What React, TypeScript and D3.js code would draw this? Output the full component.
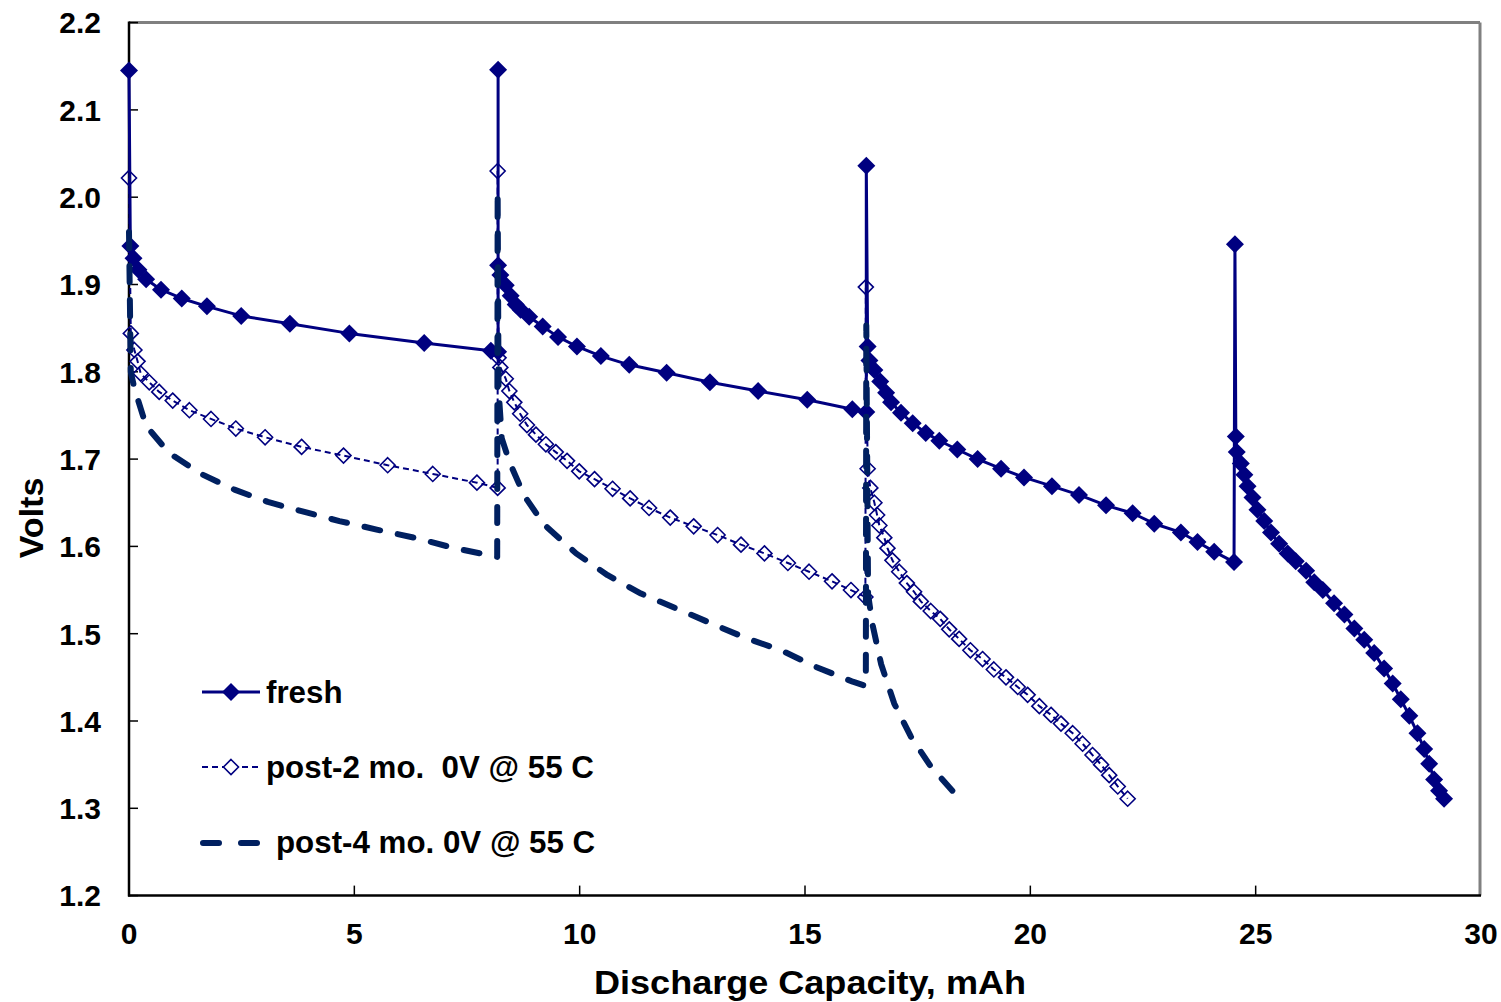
import React from "react";
import * as d3 from "d3";

const freshData: [number, number][] = [
  [0, 2.145], [0.03, 1.944], [0.1, 1.93], [0.21, 1.917], [0.38, 1.906], [0.71, 1.894], [1.17, 1.884],
  [1.73, 1.875], [2.49, 1.864], [3.57, 1.855], [4.89, 1.844], [6.55, 1.833], [8.03, 1.824], [8.19, 1.823],
  [8.19, 2.146], [8.19, 1.922], [8.24, 1.911], [8.36, 1.899], [8.47, 1.887], [8.58, 1.877], [8.69, 1.871],
  [8.88, 1.863], [9.18, 1.852], [9.52, 1.84], [9.94, 1.829], [10.47, 1.818], [11.1, 1.808], [11.93, 1.799],
  [12.89, 1.788], [13.96, 1.778], [15.05, 1.768], [16.05, 1.757], [16.36, 1.754],
  [16.36, 2.036], [16.39, 1.829], [16.43, 1.813], [16.54, 1.802], [16.67, 1.789], [16.8, 1.776], [16.91, 1.765],
  [17.13, 1.753], [17.39, 1.741], [17.68, 1.73], [17.98, 1.721], [18.38, 1.711], [18.83, 1.7], [19.35, 1.689],
  [19.86, 1.679], [20.48, 1.669], [21.08, 1.659], [21.68, 1.647], [22.27, 1.638], [22.75, 1.626], [23.34, 1.616],
  [23.71, 1.605], [24.08, 1.594], [24.52, 1.582],
  [24.54, 1.946], [24.56, 1.726], [24.58, 1.708], [24.67, 1.695], [24.75, 1.682], [24.82, 1.669], [24.93, 1.656],
  [25.04, 1.642], [25.19, 1.629], [25.34, 1.616], [25.52, 1.603], [25.71, 1.592], [25.89, 1.583], [26.12, 1.572],
  [26.3, 1.559], [26.49, 1.55], [26.74, 1.535], [26.97, 1.522], [27.19, 1.506], [27.41, 1.493], [27.63, 1.478],
  [27.85, 1.46], [28.04, 1.443], [28.22, 1.425], [28.41, 1.406], [28.59, 1.386], [28.74, 1.368], [28.85, 1.351],
  [28.96, 1.333], [29.07, 1.32], [29.18, 1.311],
];

const post2Data: [number, number][] = [
  [0, 2.022], [0.04, 1.844], [0.12, 1.825], [0.19, 1.812], [0.26, 1.798], [0.45, 1.788], [0.67, 1.777],
  [0.97, 1.767], [1.34, 1.756], [1.82, 1.746], [2.37, 1.735], [3.02, 1.725], [3.83, 1.714], [4.76, 1.704],
  [5.74, 1.693], [6.74, 1.683], [7.72, 1.673], [8.18, 1.667],
  [8.18, 2.03], [8.2, 1.816], [8.24, 1.805], [8.36, 1.792], [8.44, 1.778], [8.55, 1.765], [8.68, 1.752],
  [8.83, 1.739], [9.03, 1.728], [9.25, 1.717], [9.47, 1.708], [9.72, 1.698], [9.99, 1.686], [10.33, 1.677],
  [10.73, 1.666], [11.12, 1.655], [11.54, 1.644], [12.01, 1.633], [12.53, 1.623], [13.06, 1.613], [13.58, 1.602],
  [14.1, 1.592], [14.62, 1.581], [15.09, 1.571], [15.6, 1.56], [16.02, 1.55], [16.34, 1.542],
  [16.35, 1.897], [16.39, 1.689], [16.45, 1.667], [16.54, 1.65], [16.6, 1.636], [16.65, 1.624], [16.76, 1.61],
  [16.83, 1.598], [16.94, 1.584], [17.09, 1.571], [17.26, 1.558], [17.42, 1.548], [17.57, 1.537], [17.79, 1.526],
  [18.0, 1.517], [18.2, 1.505], [18.42, 1.494], [18.67, 1.481], [18.94, 1.471], [19.19, 1.459], [19.46, 1.45],
  [19.72, 1.439], [19.94, 1.43], [20.2, 1.417], [20.46, 1.407], [20.68, 1.397], [20.94, 1.386], [21.16, 1.374],
  [21.38, 1.361], [21.57, 1.35], [21.75, 1.338], [21.94, 1.325], [22.16, 1.311],
];

const post4Data: [number, number][] = [
  [0, 1.96], [0.04, 1.8], [0.12, 1.781], [0.38, 1.738], [0.89, 1.707], [1.6, 1.683], [2.34, 1.665],
  [3.08, 1.651], [3.85, 1.64], [4.67, 1.629], [5.52, 1.619], [6.41, 1.609], [7.22, 1.598], [8.17, 1.588],
  [8.18, 2.007], [8.2, 1.78], [8.25, 1.741], [8.27, 1.724], [8.44, 1.697], [8.77, 1.658], [9.21, 1.625],
  [9.92, 1.592], [10.62, 1.567], [11.36, 1.546], [12.14, 1.529], [12.91, 1.512], [13.69, 1.495], [14.47, 1.481],
  [15.24, 1.462], [16.06, 1.445], [16.35, 1.44],
  [16.36, 1.853], [16.4, 1.545], [16.5, 1.51], [16.69, 1.465], [16.98, 1.42], [17.35, 1.382], [17.79, 1.348],
  [18.48, 1.308],
];

const xTicks = [0, 5, 10, 15, 20, 25, 30];
const yTicks = [1.2, 1.3, 1.4, 1.5, 1.6, 1.7, 1.8, 1.9, 2.0, 2.1, 2.2];
const legendLabels = ["fresh", "post-2 mo.  0V @ 55 C", "post-4 mo. 0V @ 55 C"];

const FONT = "'Liberation Sans', Arial, sans-serif";
const NAVY = "#000080";
const DARK = "#002060";

const diamond = (x: number, y: number, r: number) =>
  `M${x},${y - r}L${x + r},${y}L${x},${y + r}L${x - r},${y}Z`;

export default function App() {
  const W = 1501;
  const H = 1002;
  const left = 129;
  const right = 1481;
  const top = 22.6;
  const bottom = 895.6;

  const x = d3.scaleLinear().domain([0, 30]).range([left, right]);
  const y = d3.scaleLinear().domain([1.2, 2.2]).range([bottom, top]);
  const line = d3
    .line<[number, number]>()
    .x((d) => x(d[0]))
    .y((d) => y(d[1]));

  return (
    <svg
      width={W}
      height={H}
      style={{ position: "absolute", left: 0, top: 0, background: "#fff" }}
      fontFamily={FONT}
    >
      <rect x={0} y={0} width={W} height={H} fill="#fff" />
      {/* plot frame */}
      <line x1={left} y1={top} x2={right - 1} y2={top} stroke="#808080" strokeWidth={3} />
      <line x1={right - 1} y1={top} x2={right - 1} y2={bottom} stroke="#808080" strokeWidth={3} />
      {/* ticks */}
      {yTicks.map((t) => (
        <line key={"yt" + t} x1={left} x2={left + 9} y1={y(t)} y2={y(t)} stroke="#000" strokeWidth={1.5} />
      ))}
      {xTicks.slice(1, -1).map((t) => (
        <line key={"xt" + t} x1={x(t)} x2={x(t)} y1={bottom} y2={bottom - 10} stroke="#000" strokeWidth={1.5} />
      ))}
      <line x1={left} y1={top - 1} x2={left} y2={bottom + 1} stroke="#000" strokeWidth={2.5} />
      <line x1={left - 1} y1={bottom} x2={right} y2={bottom} stroke="#000" strokeWidth={2.5} />

      {/* tick labels */}
      {yTicks.map((t) => (
        <text
          key={"yl" + t}
          x={101}
          y={y(t)}
          dy="0.36em"
          textAnchor="end"
          fontSize={30}
          fontWeight="bold"
          fill="#000"
        >
          {t.toFixed(1)}
        </text>
      ))}
      {xTicks.map((t) => (
        <text key={"xl" + t} x={x(t)} y={944} textAnchor="middle" fontSize={30} fontWeight="bold" fill="#000">
          {t}
        </text>
      ))}

      {/* axis titles */}
      <text
        transform="translate(43,518) rotate(-90)"
        textAnchor="middle"
        fontSize={34}
        fontWeight="bold"
        fill="#000"
      >
        Volts
      </text>
      <text
        x={810}
        y={994}
        textAnchor="middle"
        fontSize={34}
        fontWeight="bold"
        fill="#000"
        textLength={432}
        lengthAdjust="spacingAndGlyphs"
      >
        Discharge Capacity, mAh
      </text>

      {/* fresh */}
      <path d={line(freshData) || ""} fill="none" stroke={NAVY} strokeWidth={3} strokeLinejoin="round" />
      {freshData.map((d, i) => (
        <path key={"f" + i} d={diamond(x(d[0]), y(d[1]), 9)} fill={NAVY} />
      ))}

      {/* post-2 */}
      <path
        d={line(post2Data) || ""}
        fill="none"
        stroke={NAVY}
        strokeWidth={2}
        strokeDasharray="6,4"
      />
      {post2Data.map((d, i) => (
        <path key={"p2" + i} d={diamond(x(d[0]), y(d[1]), 7.5)} fill="none" stroke={NAVY} strokeWidth={1.6} />
      ))}

      {/* post-4 */}
      <path
        d={line(post4Data) || ""}
        fill="none"
        stroke={DARK}
        strokeWidth={6}
        strokeDasharray="16,18"
        strokeLinecap="round"
        strokeLinejoin="round"
      />

      {/* legend */}
      <g>
        <line x1={202} x2={260} y1={692} y2={692} stroke={NAVY} strokeWidth={3} />
        <path d={diamond(231, 692, 9)} fill={NAVY} />
        <text x={266} y={703} fontSize={31.3} fontWeight="bold" fill="#000">
          {legendLabels[0]}
        </text>

        <line x1={202} x2={260} y1={767} y2={767} stroke={NAVY} strokeWidth={2} strokeDasharray="6,4" />
        <path d={diamond(231, 767, 7.5)} fill="#fff" stroke={NAVY} strokeWidth={1.6} />
        <text x={266} y={778} fontSize={31.3} fontWeight="bold" fill="#000" style={{ whiteSpace: "pre" }}>
          {legendLabels[1]}
        </text>

        <line
          x1={203}
          x2={259}
          y1={843}
          y2={843}
          stroke={DARK}
          strokeWidth={6}
          strokeDasharray="16,22"
          strokeLinecap="round"
        />
        <text x={276} y={853} fontSize={31.3} fontWeight="bold" fill="#000">
          {legendLabels[2]}
        </text>
      </g>
    </svg>
  );
}
